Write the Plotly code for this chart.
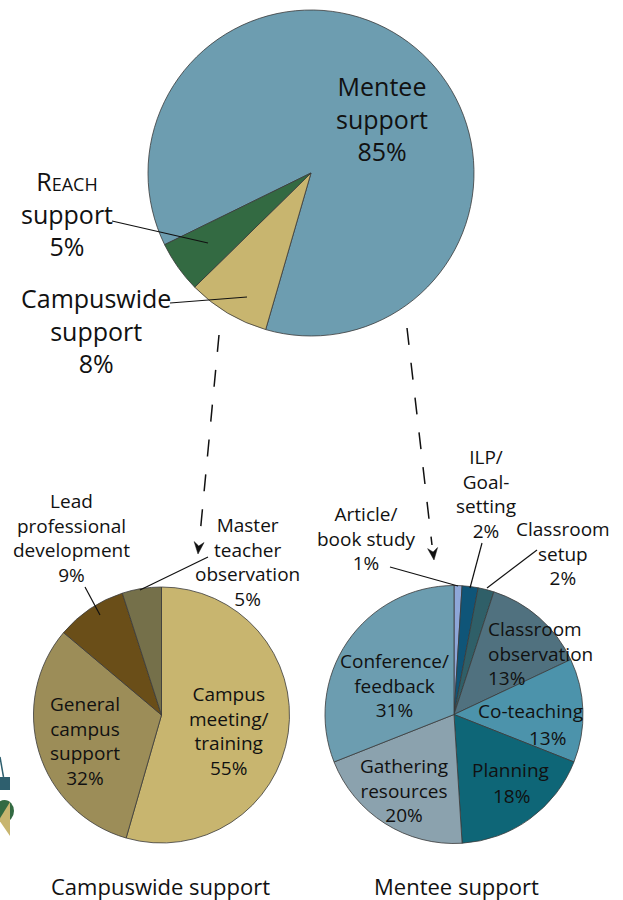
import plotly.graph_objects as go

W, H = 623, 900

# ---------------- data ----------------
top_labels = ["Mentee support", "Campuswide support", "REACH support"]
top_values = [85, 8, 5]
top_colors = ["#6d9db0", "#c8b56f", "#336a42"]

camp_labels = ["Campus meeting/training", "General campus support",
               "Lead professional development", "Master teacher observation"]
camp_values = [55, 32, 9, 5]
camp_colors = ["#c8b56f", "#9c8d58", "#6a4e18", "#75704a"]

ment_labels = ["Article/book study", "ILP/Goal-setting", "Classroom setup",
               "Classroom observation", "Co-teaching", "Planning",
               "Gathering resources", "Conference/feedback"]
ment_values = [1, 2, 2, 13, 13, 18, 20, 31]
ment_colors = ["#8ea7d8", "#0f5578", "#2f5f68", "#50717f", "#4c93ab",
               "#0e6677", "#8ba2ae", "#6c9db0"]

FONT = "Open Sans"
INK = "#111111"


def dom(cx, cy, r):
    return dict(x=[(cx - r) / W, (cx + r) / W], y=[1 - (cy + r) / H, 1 - (cy - r) / H])


fig = go.Figure()
line = dict(color="#3a3a3a", width=0.8)
fig.add_trace(go.Pie(labels=top_labels, values=top_values, marker=dict(colors=top_colors, line=line),
                     sort=False, direction="clockwise", rotation=-116.1, textinfo="none",
                     domain=dom(311, 173, 163), showlegend=False))
fig.add_trace(go.Pie(labels=camp_labels, values=camp_values, marker=dict(colors=camp_colors, line=line),
                     sort=False, direction="clockwise", rotation=0, textinfo="none",
                     domain=dom(161.5, 715, 128), showlegend=False))
fig.add_trace(go.Pie(labels=ment_labels, values=ment_values, marker=dict(colors=ment_colors, line=line),
                     sort=False, direction="clockwise", rotation=0, textinfo="none",
                     domain=dom(454, 714.5, 129), showlegend=False))

ann = []


def txt(x, y, t, size, align="center", xanchor="center"):
    ann.append(dict(x=x, y=y, xref="x", yref="y", text=t, showarrow=False, align=align,
                    xanchor=xanchor, yanchor="middle",
                    font=dict(family=FONT, size=size, color=INK)))


# top pie labels
txt(382, 118, "Mentee<br>support<br>85%", 25)
txt(67, 213, "R<span style='font-size:18px'>EACH</span><br>support<br>5%", 25)
txt(96, 330, "Campuswide<br>support<br>8%", 25)

# bottom-left labels
txt(71, 538, "Lead<br>professional<br>development<br>9%", 19)
txt(247, 562, "Master<br>teacher<br>observation<br>5%", 19)
txt(228, 731, "Campus<br>meeting/<br>training<br>55%", 19)
txt(85, 741, "General<br>campus<br>support<br>32%", 19)

# bottom-right labels
txt(366, 538, "Article/<br>book study<br>1%", 19)
txt(486, 494, "ILP/<br>Goal-<br>setting<br>2%", 19)
txt(563, 553, "Classroom<br>setup<br>2%", 19)
txt(486, 641, "Classroom<br>observation", 19, align="left", xanchor="left")
txt(506, 678, "13%", 19)
txt(530, 711, "Co-teaching", 19)
txt(547, 738, "13%", 19)
txt(510, 770, "Planning", 19)
txt(511, 796, "18%", 19)
txt(404, 790, "Gathering<br>resources<br>20%", 19)
txt(394, 685, "Conference/<br>feedback<br>31%", 19)

# titles
txt(160, 886, "Campuswide support", 22)
txt(456, 886, "Mentee support", 22)

shapes = []


def seg(x0, y0, x1, y1, w=1.2, dash=None):
    d = dict(type="line", x0=x0, y0=y0, x1=x1, y1=y1, xref="x", yref="y",
             line=dict(color=INK, width=w))
    if dash:
        d["line"]["dash"] = dash
    shapes.append(d)


# leader lines
seg(112, 221, 208, 243)
seg(170, 303, 247, 297)
seg(85, 587, 100, 615)
seg(208, 557, 140, 590)
seg(390, 567, 458, 586)
seg(482, 543, 470, 588)
seg(537, 550, 487, 588)

# dashed arrows
seg(219, 335, 199.5, 540, w=1.5, dash="17px,18px")
seg(407, 328, 432, 545, w=1.5, dash="17px,18px")


def head(xt, yt, dx, dy):
    import math
    L = math.hypot(dx, dy)
    ux, uy = dx / L, dy / L
    px, py = -uy, ux
    bx, by = xt - ux * 12, yt - uy * 12
    mx, my = xt - ux * 8, yt - uy * 8
    p = (f"M {xt},{yt} L {bx + px * 5},{by + py * 5} L {mx},{my} "
         f"L {bx - px * 5},{by - py * 5} Z")
    shapes.append(dict(type="path", path=p, xref="x", yref="y", fillcolor=INK,
                       line=dict(color=INK, width=0.5)))


head(198, 554, -20, 219)
head(434, 560, 25, 217)

# cropped logo at left edge
shapes.append(dict(type="line", x0=0, y0=757, x1=3.5, y1=777, xref="x", yref="y",
                   line=dict(color="#2e5f6e", width=1.5)))
shapes.append(dict(type="rect", x0=-2, y0=777, x1=10, y1=790, xref="x", yref="y",
                   fillcolor="#2e5f6e", line=dict(width=0)))
shapes.append(dict(type="circle", x0=-5, y0=800, x1=14, y1=822, xref="x", yref="y",
                   fillcolor="#336a42", line=dict(width=0)))
shapes.append(dict(type="path", path="M 10,802 L 10,836 L -1,820 Z", xref="x", yref="y",
                   fillcolor="#c8b56f", line=dict(width=0)))

fig.update_layout(
    width=W, height=H, margin=dict(l=0, r=0, t=0, b=0),
    paper_bgcolor="white", plot_bgcolor="rgba(0,0,0,0)",
    xaxis=dict(range=[0, W], visible=False, fixedrange=True),
    yaxis=dict(range=[H, 0], visible=False, fixedrange=True),
    annotations=ann, shapes=shapes, showlegend=False,
)

fig.write_html("out.html", config={"displayModeBar": False},
               post_script="document.body.style.margin='0';document.body.style.overflow='hidden';")
